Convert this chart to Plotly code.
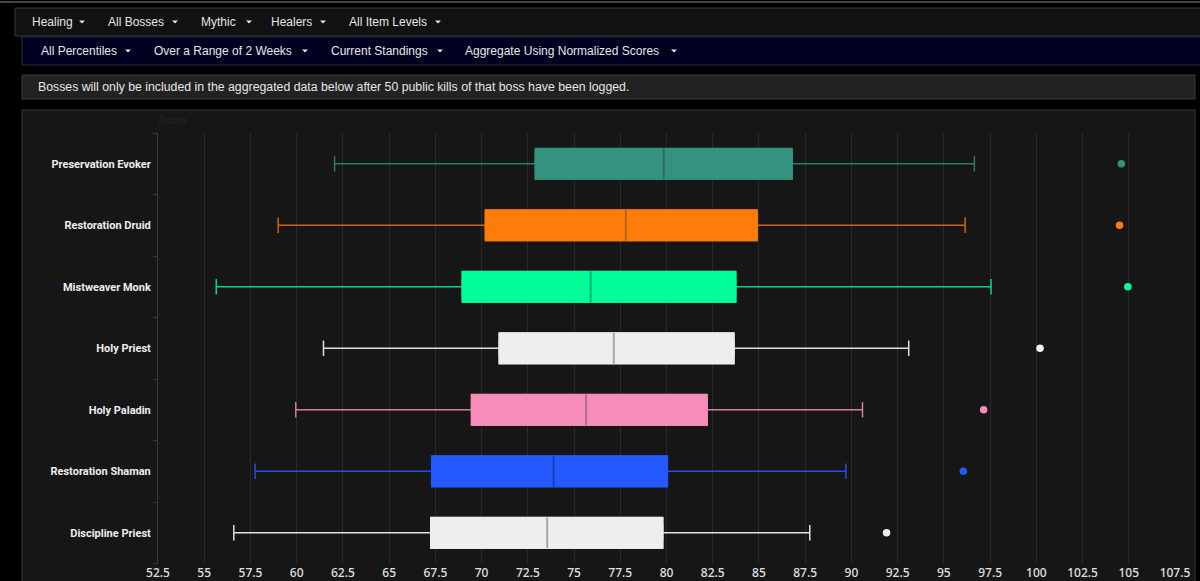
import plotly.graph_objects as go

W, H = 1200, 581

specs = ['Preservation Evoker', 'Restoration Druid', 'Mistweaver Monk', 'Holy Priest',
         'Holy Paladin', 'Restoration Shaman', 'Discipline Priest']
low = [62.05, 59.0, 55.65, 61.45, 59.95, 57.75, 56.6]
q1 = [72.9, 70.2, 68.95, 70.95, 69.45, 67.3, 67.25]
med = [79.85, 77.8, 75.9, 77.15, 75.65, 73.9, 73.55]
q3 = [86.8, 84.9, 83.75, 83.65, 82.2, 80.05, 79.8]
high = [96.65, 96.15, 97.55, 93.1, 90.6, 89.7, 87.75]
outliers = [104.6, 104.5, 104.95, 100.2, 97.15, 96.05, 91.9]

fills = ['#33937f', '#ff7c0a', '#00ff98', '#eeeeee', '#f58cba', '#2459ff', '#eeeeee']
whisker_cols = ['#2c7a6a', '#c9670f', '#00d888', '#e0e0e0', '#d07ca2', '#2250e6', '#e0e0e0']
median_cols = ['#2a6d5f', '#b9650f', '#10b07a', '#a8a8a8', '#b56f90', '#1c3fb0', '#a8a8a8']

ticks = [52.5 + 2.5 * i for i in range(23)]
tick_text = [f'{t:g}' for t in ticks]

row1 = [('Healing', 30, 82), ('All Bosses', 106, 175), ('Mythic', 199, 249),
        ('Healers', 269, 323), ('All Item Levels', 347, 438)]
row2 = [('All Percentiles', 39, 128), ('Over a Range of 2 Weeks', 152, 305),
        ('Current Standings', 329, 440), ('Aggregate Using Normalized Scores', 463, 674)]
notice = 'Bosses will only be included in the aggregated data below after 50 public kills of that boss have been logged.'


def px(x):
    return x / W


def py(y):
    return 1 - y / H


def panel(x0, y0, x1, y1, fill, line):
    return dict(type='rect', xref='paper', yref='paper', x0=px(x0), x1=px(x1), y0=py(y0), y1=py(y1),
                fillcolor=fill, line=dict(color=line, width=1), layer='below')


def label(text, x, y, size=12, color='#e6e6e6', family='Liberation Sans'):
    return dict(text=text, x=px(x), y=py(y), xref='paper', yref='paper', xanchor='left', yanchor='middle',
                showarrow=False, font=dict(size=size, color=color, family=family))


def caret(x, y):
    return dict(type='path', xref='paper', yref='paper', line=dict(width=0), fillcolor='#e6e6e6',
                path=f'M {px(x - 3)} {py(y - 1.5)} L {px(x + 3)} {py(y - 1.5)} L {px(x)} {py(y + 1.5)} Z')


fig = go.Figure()

for i, s in enumerate(specs):
    fig.add_trace(go.Box(
        y=[s], q1=[q1[i]], median=[med[i]], q3=[q3[i]], lowerfence=[low[i]], upperfence=[high[i]],
        orientation='h', fillcolor=fills[i], line=dict(color=whisker_cols[i], width=1.5),
        width=0.5, whiskerwidth=0.5, boxpoints=False, showlegend=False,
    ))

# second pass over the boxes only, so the border stays the fill colour
for i, s in enumerate(specs):
    fig.add_trace(go.Box(
        y=[s], q1=[q1[i]], median=[med[i]], q3=[q3[i]], lowerfence=[q1[i]], upperfence=[q3[i]],
        orientation='h', fillcolor=fills[i], line=dict(color=fills[i], width=1),
        width=0.5, boxpoints=False, showlegend=False,
    ))

# median line in its own darker shade
fig.add_trace(go.Scatter(
    x=med, y=specs, mode='markers', showlegend=False,
    marker=dict(symbol='line-ns', size=22, line=dict(color=median_cols, width=2)),
))
fig.add_trace(go.Scatter(
    x=outliers, y=specs, mode='markers', showlegend=False,
    marker=dict(size=7.5, color=fills),
))

shapes = [
    dict(type='line', xref='paper', yref='paper', x0=0, x1=1, y0=py(2), y1=py(2),
         line=dict(color='#444444', width=2), layer='below'),
    panel(15, 8, 1210, 36, '#111111', '#3a3a3a'),
    panel(22, 37, 1210, 65, '#000020', '#2c2c3c'),
    panel(22, 75, 1195, 99, '#222222', '#3c3c3c'),
    panel(22, 110, 1195, 590, '#161616', '#383838'),
]
annotations = [label(notice, 36, 87, size=12.3), label('Zoom', 156, 120, size=11, color='#262626')]
for text, x, cx in row1:
    annotations.append(label(text, x, 22))
    shapes.append(caret(cx, 22))
for text, x, cx in row2:
    annotations.append(label(text, x, 51))
    shapes.append(caret(cx, 51))

fig.update_layout(
    width=W, height=H, autosize=False,
    margin=dict(l=0, r=0, t=0, b=0),
    boxmode='overlay',
    paper_bgcolor='#000000', plot_bgcolor='#161616',
    shapes=shapes, annotations=annotations,
    xaxis=dict(domain=[px(158), px(1175)], range=[52.5, 107.5], tickvals=ticks, ticktext=tick_text,
               automargin=False, showgrid=True, gridcolor='#292929', gridwidth=1, zeroline=False,
               showline=False, ticks='',
               tickfont=dict(size=12, color='#e0e0e0', family='Noto Sans', weight=500)),
    yaxis=dict(domain=[py(563.5), py(133)], categoryorder='array', categoryarray=specs[::-1],
               range=[-0.5, 6.5], automargin=False, showgrid=False, zeroline=False, showline=True,
               linecolor='#383838', linewidth=1, ticks='outside', tickson='boundaries', ticklen=4,
               tickcolor='#383838', ticklabelstandoff=4,
               tickfont=dict(size=11, color='#eeeeee', family='Roboto', weight=700)),
)

fig.write_html('out.html', config=dict(displayModeBar=False),
               post_script="document.body.style.margin='0';document.body.style.background='#000';")
